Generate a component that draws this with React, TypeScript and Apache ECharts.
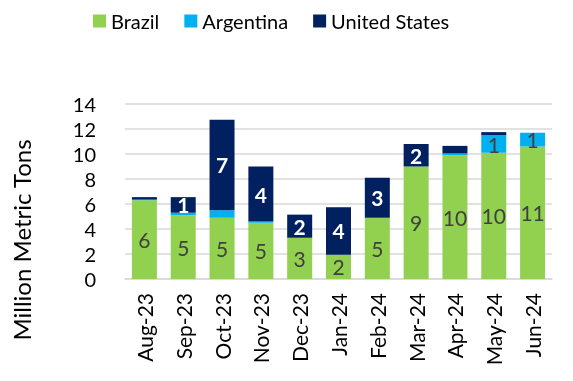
import React, { useEffect, useRef } from "react";
import * as echarts from "echarts";

const categories = ["Aug-23", "Sep-23", "Oct-23", "Nov-23", "Dec-23", "Jan-24", "Feb-24", "Mar-24", "Apr-24", "May-24", "Jun-24"];
const brazil = [6.3, 5.1, 4.9, 4.5, 3.3, 1.95, 4.9, 9.0, 9.9, 10.1, 10.6];
const argentina = [0.05, 0.2, 0.6, 0.1, 0, 0, 0, 0, 0.15, 1.4, 1.1];
const unitedStates = [0.2, 1.25, 7.25, 4.4, 1.85, 3.8, 3.2, 1.8, 0.6, 0.25, 0];
const yTicks = { min: 0, max: 14, interval: 2 };

const FONT = "Lato, 'Liberation Sans', sans-serif";

const fmt = (p: any) => (p.value >= 1 ? String(Math.round(p.value)) : "");

export default function App() {
  const ref = useRef<HTMLDivElement>(null);
  useEffect(() => {
    if (!ref.current) return;
    const chart = echarts.init(ref.current, undefined, { renderer: "svg" });
    chart.setOption({
      animation: false,
      textStyle: { fontFamily: FONT },
      legend: {
        left: 88,
        top: 6,
        itemWidth: 13,
        itemHeight: 13,
        itemGap: 25,
        icon: "rect",
        textStyle: { fontSize: 20, color: "#000", fontFamily: FONT },
        data: ["Brazil", "Argentina", "United States"],
      },
      grid: { left: 125, right: 21, top: 104, bottom: 102 },
      xAxis: {
        type: "category",
        data: categories,
        axisLine: { lineStyle: { color: "#d9d9d9", width: 1.5 } },
        axisTick: { show: false },
        axisLabel: { rotate: 90, fontSize: 21, color: "#000", margin: 14, fontFamily: FONT },
      },
      yAxis: {
        type: "value",
        min: yTicks.min,
        max: yTicks.max,
        interval: yTicks.interval,
        axisLine: { show: false },
        axisTick: { show: false },
        axisLabel: { fontSize: 20, color: "#000", margin: 29, fontFamily: FONT },
        splitLine: { lineStyle: { color: "#d9d9d9", width: 1.5 } },
      },
      graphic: [
        {
          type: "text",
          x: 21,
          y: 240,
          rotation: Math.PI / 2,
          style: {
            text: "Million Metric Tons",
            fontSize: 24,
            fontFamily: FONT,
            fill: "#000",
            align: "center",
            verticalAlign: "middle",
          },
        },
      ],
      series: [
        {
          name: "Brazil",
          type: "bar",
          stack: "total",
          barWidth: 25,
          data: brazil,
          itemStyle: { color: "#92d050" },
          label: { show: true, position: "inside", fontSize: 21, color: "#404040", fontFamily: FONT, formatter: fmt },
        },
        {
          name: "Argentina",
          type: "bar",
          stack: "total",
          barWidth: 25,
          data: argentina,
          itemStyle: { color: "#00b0f0" },
          label: { show: true, position: "inside", fontSize: 21, color: "#404040", fontFamily: FONT, formatter: fmt },
        },
        {
          name: "United States",
          type: "bar",
          stack: "total",
          barWidth: 25,
          data: unitedStates,
          itemStyle: { color: "#002060" },
          label: { show: true, position: "inside", fontSize: 21, color: "#fff", fontWeight: "bold", fontFamily: FONT, formatter: fmt },
        },
      ],
    });
    return () => chart.dispose();
  }, []);
  return <div ref={ref} style={{ position: "fixed", left: 0, top: 0, width: 573, height: 381 }} />;
}
